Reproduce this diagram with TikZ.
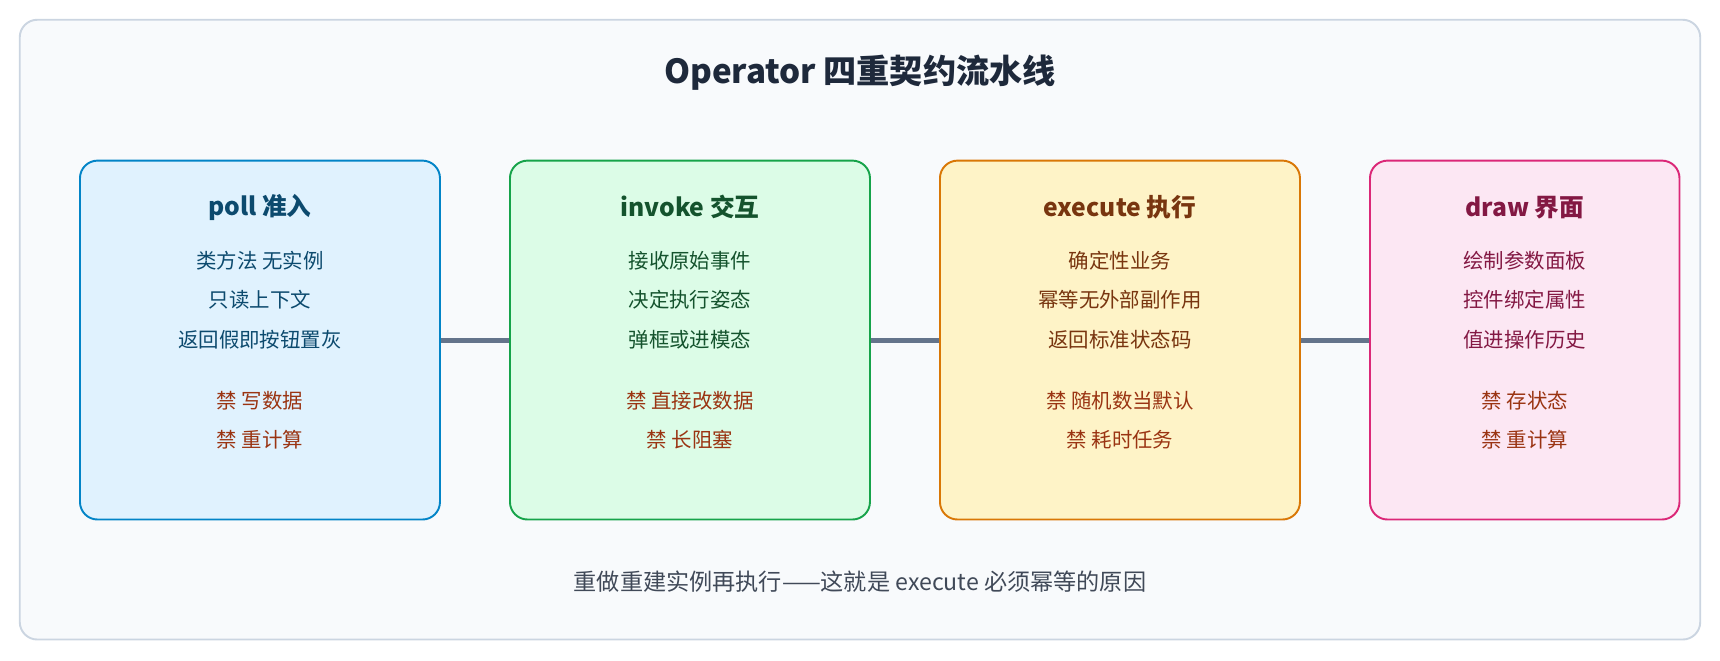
\documentclass[tikz,border=0pt]{standalone}
\usepackage{fontspec}
\setmainfont{Noto Sans CJK SC}
\usetikzlibrary{positioning}
\definecolor{pagebg}{HTML}{F8FAFC}
\definecolor{pageln}{HTML}{CBD5E1}
\definecolor{wire}{HTML}{64748B}
\definecolor{titlec}{HTML}{1E293B}
\definecolor{banc}{HTML}{9A3412}
\definecolor{fa}{HTML}{E0F2FE}\definecolor{la}{HTML}{0284C7}\definecolor{ta}{HTML}{0C4A6E}
\definecolor{fb}{HTML}{DCFCE7}\definecolor{lb}{HTML}{16A34A}\definecolor{tb}{HTML}{14532D}
\definecolor{fc}{HTML}{FEF3C7}\definecolor{lc}{HTML}{D97706}\definecolor{tc}{HTML}{78350F}
\definecolor{fd}{HTML}{FCE7F3}\definecolor{ld}{HTML}{DB2777}\definecolor{td}{HTML}{831843}
\tikzset{
  stage/.style={draw,rounded corners=0.16cm,line width=0.5pt,minimum height=3.27cm},
  head/.style={font=\fontsize{6.4pt}{7pt}\selectfont\bfseries},
  line/.style={font=\fontsize{5.3pt}{6pt}\selectfont},
  ban/.style={line,text=banc}
}
\begin{document}
\begin{tikzpicture}[x=0.01cm,y=-0.01cm]
\useasboundingbox (0,0) rectangle (1568,602);
\draw[fill=pagebg,draw=pageln,line width=0.5pt,rounded corners=0.16cm] (18,18) rectangle (1550,583);
\node[font=\fontsize{8.6pt}{10pt}\selectfont\bfseries,text=titlec] (title) at (784,66) {Operator 四重契约流水线};

% stages
\node[stage,fill=fa,draw=la,minimum width=3.28cm] (poll) at (237,310) {};
\node[stage,fill=fb,draw=lb,minimum width=3.28cm] (invoke) at (629,310) {};
\node[stage,fill=fc,draw=lc,minimum width=3.28cm] (exec) at (1021,310) {};
\node[stage,fill=fd,draw=ld,minimum width=2.82cm] (draw) at (1390,310) {};

% wires
\draw[wire,line width=1.3pt] (poll.east) -- (invoke.west);
\draw[wire,line width=1.3pt] (invoke.east) -- (exec.west);
\draw[wire,line width=1.3pt] (exec.east) -- (draw.west);

% texts
\node[head,text=ta] (h1) at (237,189) {poll 准入};
\node[line,text=ta] at (237,238) {类方法 无实例};
\node[line,text=ta] at (237,273) {只读上下文};
\node[line,text=ta] at (237,310) {返回假即按钮置灰};
\node[ban] at (237,365) {禁 写数据};
\node[ban] at (237,401) {禁 重计算};

\node[head,text=tb] (h2) at (629,189) {invoke 交互};
\node[line,text=tb] at (629,238) {接收原始事件};
\node[line,text=tb] at (629,273) {决定执行姿态};
\node[line,text=tb] at (629,310) {弹框或进模态};
\node[ban] at (629,365) {禁 直接改数据};
\node[ban] at (629,401) {禁 长阻塞};

\node[head,text=tc] (h3) at (1021,189) {execute 执行};
\node[line,text=tc] at (1021,238) {确定性业务};
\node[line,text=tc] at (1021,273) {幂等无外部副作用};
\node[line,text=tc] at (1021,310) {返回标准状态码};
\node[ban] at (1021,365) {禁 随机数当默认};
\node[ban] at (1021,401) {禁 耗时任务};

\node[head,text=td] (h4) at (1390,189) {draw 界面};
\node[line,text=td] at (1390,238) {绘制参数面板};
\node[line,text=td] at (1390,273) {控件绑定属性};
\node[line,text=td] at (1390,310) {值进操作历史};
\node[ban] at (1390,365) {禁 存状态};
\node[ban] at (1390,401) {禁 重计算};

\node[line,font=\fontsize{6pt}{7pt}\selectfont,text=titlec!85] (foot) at (784,530) {重做重建实例再执行——这就是 execute 必须幂等的原因};
\end{tikzpicture}
\end{document}
